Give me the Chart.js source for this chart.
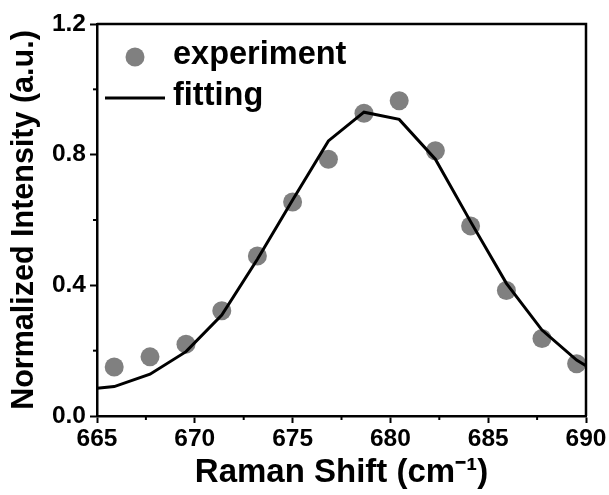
<!DOCTYPE html>
<html>
<head>
<meta charset="utf-8">
<script src="https://cdn.jsdelivr.net/npm/chart.js@4.4.0/dist/chart.umd.min.js"></script>
<style>
  html, body { margin: 0; padding: 0; background: #fff; }
</style>
</head>
<body>
<canvas id="chart" width="609" height="495"></canvas>
<script>
// measured spectrum
let shift = [665.88, 667.71, 669.55, 671.38, 673.20, 675.00, 676.83, 678.65, 680.45, 682.30, 684.10, 685.93, 687.75, 689.52];
let experiment = [0.150, 0.181, 0.220, 0.322, 0.490, 0.655, 0.786, 0.927, 0.965, 0.812, 0.582, 0.384, 0.237, 0.160];

// fitted curve
let fitShift = [665.0, 665.88, 667.71, 669.55, 671.38, 673.20, 675.00, 676.83, 678.65, 680.45, 682.30, 684.10, 685.93, 687.75, 689.52, 690.0];
let fitting = [0.085, 0.090, 0.128, 0.197, 0.309, 0.480, 0.661, 0.842, 0.930, 0.908, 0.786, 0.595, 0.406, 0.263, 0.171, 0.154];

let xTicks = [665, 670, 675, 680, 685, 690];
let yTicks = [0.0, 0.4, 0.8, 1.2];

const FONT = "'Liberation Sans', Arial, sans-serif";
const GREY = '#808080';

function toPoints(xs, ys) {
    return xs.map((x, i) => ({ x: x, y: ys[i] }));
}

// box frame, minor ticks and the legend
const decorations = {
    id: 'decorations',
    afterDraw(chart) {
        const c = chart.ctx;
        const a = chart.chartArea;
        const xs = chart.scales.x;
        const ys = chart.scales.y;
        c.save();
        c.strokeStyle = '#000';
        c.lineWidth = 2.5;
        c.beginPath();
        c.moveTo(a.left, a.top);
        c.lineTo(a.right, a.top);
        c.lineTo(a.right, a.bottom);
        c.stroke();

        c.lineWidth = 2;
        for (let i = 0; i < xTicks.length - 1; i++) {
            const px = xs.getPixelForValue((xTicks[i] + xTicks[i + 1]) / 2);
            c.beginPath();
            c.moveTo(px, a.bottom);
            c.lineTo(px, a.bottom + 4);
            c.stroke();
        }
        for (let i = 0; i < yTicks.length - 1; i++) {
            const py = ys.getPixelForValue((yTicks[i] + yTicks[i + 1]) / 2);
            c.beginPath();
            c.moveTo(a.left, py);
            c.lineTo(a.left - 4, py);
            c.stroke();
        }

        // legend
        const lx = a.left;
        const ly = a.top;
        c.fillStyle = GREY;
        c.beginPath();
        c.arc(lx + 38, ly + 33, 9.5, 0, Math.PI * 2);
        c.fill();
        c.strokeStyle = '#000';
        c.lineWidth = 3;
        c.beginPath();
        c.moveTo(lx + 8, ly + 74);
        c.lineTo(lx + 68, ly + 74);
        c.stroke();
        c.fillStyle = '#000';
        c.font = 'bold 32.5px ' + FONT;
        c.textBaseline = 'middle';
        c.textAlign = 'left';
        c.fillText('experiment', lx + 76, ly + 31);
        c.fillText('fitting', lx + 76, ly + 72);
        c.restore();
    }
};

let ctx = document.getElementById('chart').getContext('2d');
let chart = new Chart(ctx, {
    type: 'scatter',
    data: {
        datasets: [
            {
                label: 'experiment',
                data: toPoints(shift, experiment),
                backgroundColor: GREY,
                borderWidth: 0,
                pointRadius: 9.5,
                pointHoverRadius: 9.5,
                order: 2
            },
            {
                label: 'fitting',
                data: toPoints(fitShift, fitting),
                showLine: true,
                borderColor: '#000',
                borderWidth: 3,
                pointRadius: 0,
                fill: false,
                order: 1
            }
        ]
    },
    options: {
        responsive: false,
        animation: false,
        devicePixelRatio: 1,
        layout: { padding: { left: 6, top: 24, right: 23, bottom: 2 } },
        plugins: {
            legend: { display: false },
            tooltip: { enabled: false }
        },
        scales: {
            x: {
                type: 'linear',
                min: 665,
                max: 690,
                afterBuildTicks: (s) => { s.ticks = xTicks.map(v => ({ value: v })); },
                afterFit: (s) => { s.height = 77; },
                border: { display: true, color: '#000', width: 2.5 },
                grid: { drawOnChartArea: false, drawTicks: true, tickLength: 7, tickWidth: 2, tickColor: '#000' },
                ticks: {
                    color: '#000',
                    padding: 2,
                    maxRotation: 0,
                    font: { family: FONT, size: 24.5, weight: 'bold' }
                },
                title: {
                    display: true,
                    text: 'Raman Shift (cm\u207B\u00B9)',
                    color: '#000',
                    padding: { top: 0, bottom: 0 },
                    font: { family: FONT, size: 33, weight: 'bold' }
                }
            },
            y: {
                min: 0,
                max: 1.2,
                afterBuildTicks: (s) => { s.ticks = yTicks.map(v => ({ value: v })); },
                afterFit: (s) => { s.width = 91; },
                border: { display: true, color: '#000', width: 2.5 },
                grid: { drawOnChartArea: false, drawTicks: true, tickLength: 7, tickWidth: 2, tickColor: '#000' },
                ticks: {
                    color: '#000',
                    padding: 4,
                    callback: (v) => Number(v).toFixed(1),
                    font: { family: FONT, size: 24.5, weight: 'bold' }
                },
                title: {
                    display: true,
                    text: 'Normalized Intensity (a.u.)',
                    color: '#000',
                    padding: { top: 0, bottom: 2 },
                    font: { family: FONT, size: 30.5, weight: 'bold' }
                }
            }
        }
    },
    plugins: [decorations]
});
</script>
</body>
</html>
